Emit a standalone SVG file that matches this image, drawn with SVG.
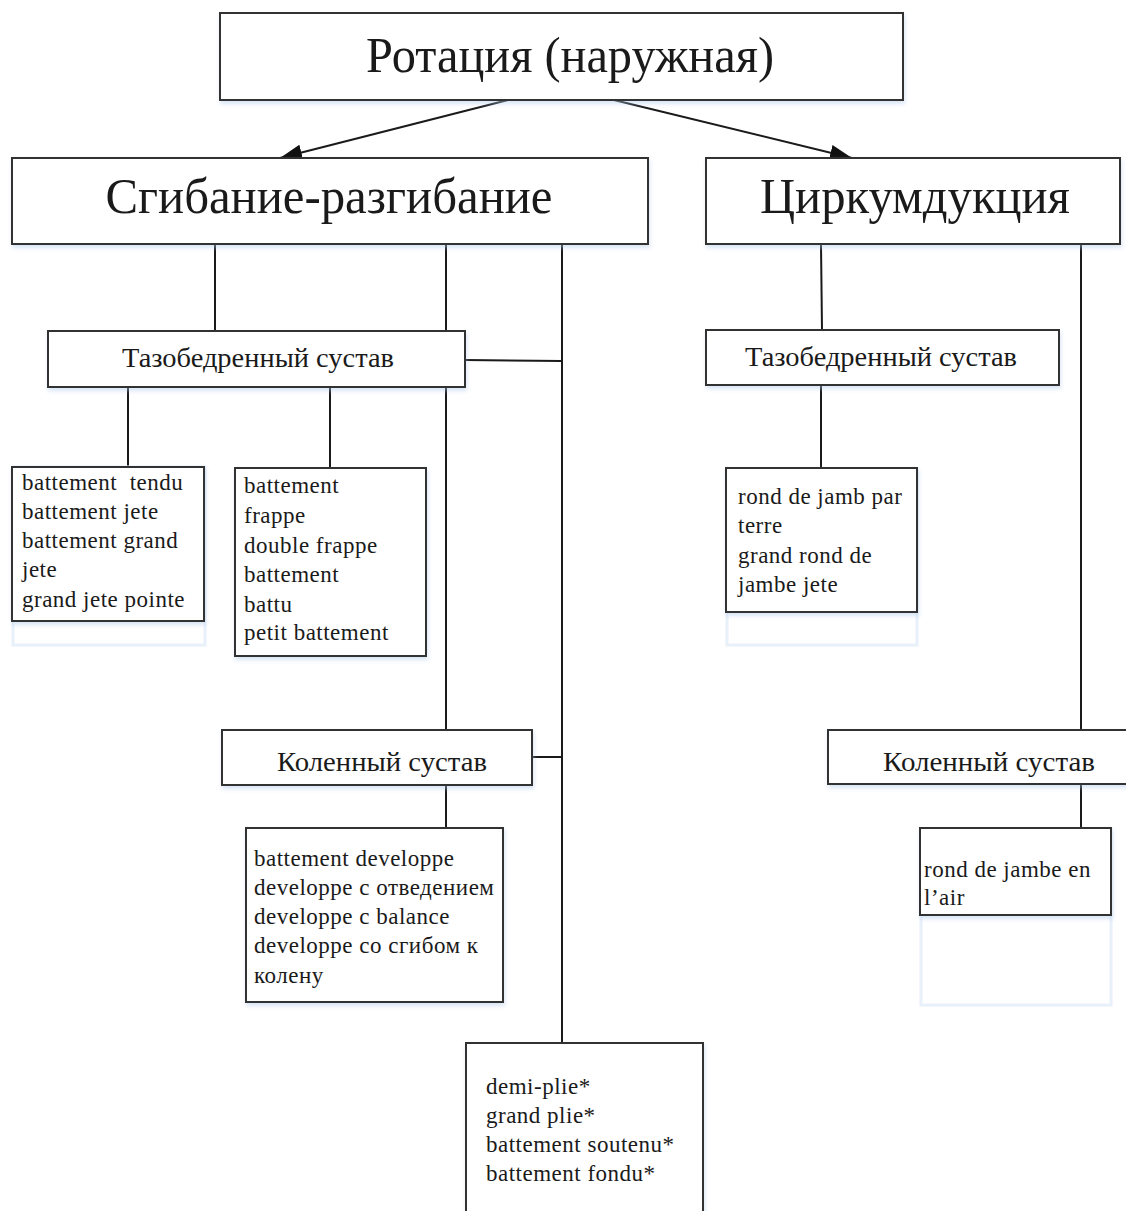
<svg xmlns="http://www.w3.org/2000/svg" width="1126" height="1211" viewBox="0 0 1126 1211">
<style>
.box{fill:#fff;stroke:#333;stroke-width:2;filter:url(#sh)}
.ghost{fill:none;stroke:#e8f0f9;stroke-width:3}
.ln{stroke:#1a1a1a;stroke-width:2;fill:none}
.title{font-family:"Liberation Serif","Times New Roman",serif;font-size:50px;fill:#1a1a1a;text-anchor:middle}
.lab{font-family:"Liberation Serif","Times New Roman",serif;font-size:28px;fill:#1a1a1a;text-anchor:middle}
.it{font-family:"Liberation Serif","Times New Roman",serif;font-size:23px;fill:#1a1a1a;letter-spacing:0.5px;white-space:pre}
</style>
<defs>
<filter id="sh" x="-5%" y="-10%" width="110%" height="130%">
<feDropShadow dx="1" dy="3" stdDeviation="2" flood-color="#a9c6e8" flood-opacity="0.45"/>
</filter>
<marker id="ah" markerUnits="userSpaceOnUse" markerWidth="24" markerHeight="18" refX="22" refY="9" orient="auto">
<path d="M0,1 L22,9 L0,17 Z" fill="#111"/>
</marker>
</defs>

<g id="connectors">
<line class="ln" x1="508" y1="100" x2="280" y2="158" marker-end="url(#ah)"/>
<line class="ln" x1="614" y1="100" x2="852" y2="158" marker-end="url(#ah)"/>
<line class="ln" x1="215" y1="245" x2="215" y2="331"/>
<line class="ln" x1="446" y1="245" x2="446" y2="331"/>
<line class="ln" x1="446" y1="387" x2="446" y2="730"/>
<line class="ln" x1="562" y1="245" x2="562" y2="1043"/>
<line class="ln" x1="465" y1="360" x2="562" y2="361"/>
<line class="ln" x1="128" y1="387" x2="128" y2="467"/>
<line class="ln" x1="330" y1="387" x2="330" y2="468"/>
<line class="ln" x1="532" y1="757" x2="562" y2="757"/>
<line class="ln" x1="446" y1="785" x2="446" y2="828"/>
<line class="ln" x1="821" y1="245" x2="822" y2="330"/>
<line class="ln" x1="821" y1="385" x2="821" y2="468"/>
<line class="ln" x1="1081" y1="245" x2="1081" y2="730"/>
<line class="ln" x1="1081" y1="784" x2="1081" y2="828"/>
</g>

<g id="ghosts">
<rect class="ghost" x="13" y="467" width="192" height="178"/>
<rect class="ghost" x="727" y="469" width="190" height="176"/>
<rect class="ghost" x="921" y="829" width="190" height="176"/>
</g>

<g id="n-rotation">
<rect class="box" x="220" y="13" width="683" height="87"/>
<text class="title" x="570" y="72" textLength="408" lengthAdjust="spacingAndGlyphs">Ротация (наружная)</text>
</g>
<g id="n-flex">
<rect class="box" x="12" y="158" width="636" height="86"/>
<text class="title" x="329" y="213" textLength="447" lengthAdjust="spacingAndGlyphs">Сгибание-разгибание</text>
</g>
<g id="n-circ">
<rect class="box" x="706" y="158" width="414" height="86"/>
<text class="title" x="915" y="213" textLength="310" lengthAdjust="spacingAndGlyphs">Циркумдукция</text>
</g>
<g id="n-hip-left">
<rect class="box" x="48" y="331" width="417" height="56"/>
<text class="lab" x="258" y="367" textLength="272" lengthAdjust="spacingAndGlyphs">Тазобедренный сустав</text>
</g>
<g id="n-hip-right">
<rect class="box" x="706" y="330" width="353" height="55"/>
<text class="lab" x="881" y="366" textLength="272" lengthAdjust="spacingAndGlyphs">Тазобедренный сустав</text>
</g>
<g id="n-knee-left">
<rect class="box" x="222" y="730" width="310" height="55"/>
<text class="lab" x="382" y="771" textLength="210" lengthAdjust="spacingAndGlyphs">Коленный сустав</text>
</g>
<g id="n-knee-right">
<rect class="box" x="828" y="730" width="300" height="54"/>
<text class="lab" x="989" y="771" textLength="212" lengthAdjust="spacingAndGlyphs">Коленный сустав</text>
</g>

<g id="n-list1">
<rect class="box" x="12" y="467" width="192" height="154"/>
<text class="it" x="22" y="490">battement  tendu</text>
<text class="it" x="22" y="519">battement jete</text>
<text class="it" x="22" y="548">battement grand</text>
<text class="it" x="22" y="577">jete</text>
<text class="it" x="22" y="607">grand jete pointe</text>
</g>
<g id="n-list2">
<rect class="box" x="235" y="468" width="191" height="188"/>
<text class="it" x="244" y="493">battement</text>
<text class="it" x="244" y="523">frappe</text>
<text class="it" x="244" y="553">double frappe</text>
<text class="it" x="244" y="582">battement</text>
<text class="it" x="244" y="612">battu</text>
<text class="it" x="244" y="640">petit battement</text>
</g>
<g id="n-list3">
<rect class="box" x="246" y="828" width="257" height="174"/>
<text class="it" x="254" y="866">battement developpe</text>
<text class="it" x="254" y="895">developpe с отведением</text>
<text class="it" x="254" y="924">developpe с balance</text>
<text class="it" x="254" y="953">developpe со сгибом к</text>
<text class="it" x="254" y="983">колену</text>
</g>
<g id="n-list4">
<rect class="box" x="466" y="1043" width="237" height="200"/>
<text class="it" x="486" y="1094">demi-plie*</text>
<text class="it" x="486" y="1123">grand plie*</text>
<text class="it" x="486" y="1152">battement soutenu*</text>
<text class="it" x="486" y="1181">battement fondu*</text>
</g>
<g id="n-list5">
<rect class="box" x="726" y="468" width="191" height="144"/>
<text class="it" x="738" y="504">rond de jamb par</text>
<text class="it" x="738" y="533">terre</text>
<text class="it" x="738" y="563">grand rond de</text>
<text class="it" x="738" y="592">jambe jete</text>
</g>
<g id="n-list6">
<rect class="box" x="920" y="828" width="191" height="87"/>
<text class="it" x="924" y="877">rond de jambe en</text>
<text class="it" x="924" y="905">l’air</text>
</g>
</svg>
